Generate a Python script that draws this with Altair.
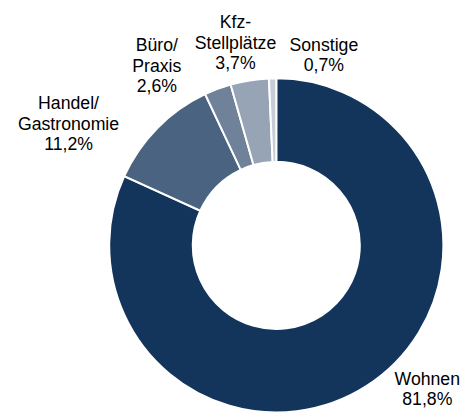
import altair as alt
import pandas as pd

categories = ["Wohnen", "Handel/\nGastronomie", "Büro/\nPraxis", "Kfz-\nStellplätze", "Sonstige"]
values = [81.8, 11.2, 2.6, 3.7, 0.7]
colors = ["#13355C", "#4A6380", "#6F8299", "#97A4B5", "#C6CDD7"]
# per-label nudges (style only)
label_nudge = {
    "Wohnen": (40, -40),
    "Handel/\nGastronomie": (-62, 4),
    "Büro/\nPraxis": (-48, -6),
    "Kfz-\nStellplätze": (-8, -19),
    "Sonstige": (53, 7),
}

df = pd.DataFrame({"category": categories, "value": values, "order": list(range(len(categories)))})

CX, CY = 273, 238
R_OUT, R_IN = 170, 85
FONT = "Liberation Sans"

base = alt.Chart(df)

arc = base.mark_arc(outerRadius=R_OUT, innerRadius=R_IN, stroke="white", strokeWidth=2).encode(
    theta=alt.Theta("value:Q", stack=True, scale=alt.Scale(domain=[0, 100])),
    order=alt.Order("order:Q"),
    color=alt.Color("category:N", scale=alt.Scale(domain=categories, range=colors), legend=None),
    x=alt.value(CX),
    y=alt.value(CY),
)

labeled = base.transform_window(
    cum="sum(value)", sort=[alt.SortField("order")], frame=[None, 0]
).transform_calculate(
    mid="datum.cum - datum.value / 2",
    label="datum.category + '\\n' + replace(format(datum.value, '.1f'), '.', ',') + '%'",
)

layers = [arc]
for cat in categories:
    dx, dy = label_nudge[cat]
    layers.append(
        labeled.transform_filter(alt.datum.category == cat)
        .mark_text(radius=210, dx=dx, dy=dy, align="center", baseline="middle",
                   lineBreak="\n", fontSize=18, lineHeight=21, font=FONT, color="#000000")
        .encode(
            theta=alt.Theta("mid:Q", stack=None, scale=alt.Scale(domain=[0, 100])),
            text="label:N",
            x=alt.value(CX),
            y=alt.value(CY),
        )
    )

chart = alt.layer(*layers).properties(
    width=464, height=404, padding=0,
    autosize=alt.AutoSizeParams(type="none"),
).configure_view(stroke=None)

chart.save("out.html", embed_options={"renderer": "svg", "actions": False})
